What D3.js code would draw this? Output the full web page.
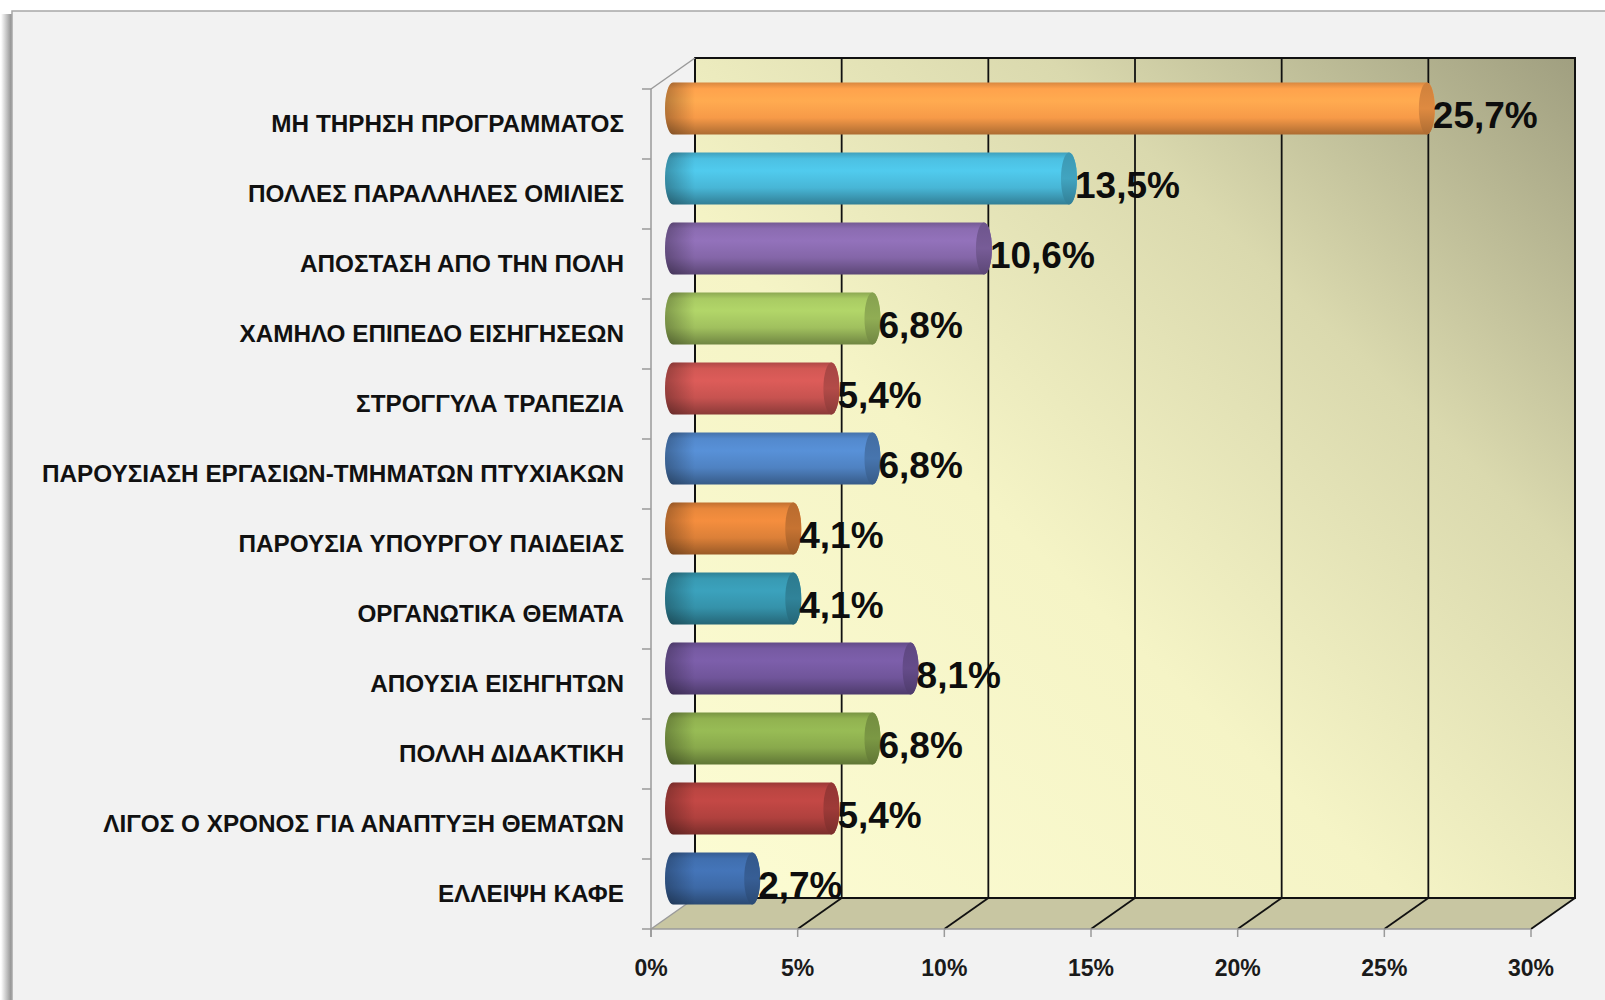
<!DOCTYPE html>
<html><head><meta charset="utf-8">
<script src="https://cdn.jsdelivr.net/npm/d3@7/dist/d3.min.js"></script>
<style>html,body{margin:0;padding:0;background:#fff;}svg{display:block;}</style>
</head><body>
<svg id="chart" width="1605" height="1000"></svg>
<script>
const categories = [
  "ΜΗ ΤΗΡΗΣΗ ΠΡΟΓΡΑΜΜΑΤΟΣ",
  "ΠΟΛΛΕΣ ΠΑΡΑΛΛΗΛΕΣ ΟΜΙΛΙΕΣ",
  "ΑΠΟΣΤΑΣΗ ΑΠΟ ΤΗΝ ΠΟΛΗ",
  "ΧΑΜΗΛΟ ΕΠΙΠΕΔΟ ΕΙΣΗΓΗΣΕΩΝ",
  "ΣΤΡΟΓΓΥΛΑ ΤΡΑΠΕΖΙΑ",
  "ΠΑΡΟΥΣΙΑΣΗ ΕΡΓΑΣΙΩΝ-ΤΜΗΜΑΤΩΝ ΠΤΥΧΙΑΚΩΝ",
  "ΠΑΡΟΥΣΙΑ ΥΠΟΥΡΓΟΥ ΠΑΙΔΕΙΑΣ",
  "ΟΡΓΑΝΩΤΙΚΑ ΘΕΜΑΤΑ",
  "ΑΠΟΥΣΙΑ ΕΙΣΗΓΗΤΩΝ",
  "ΠΟΛΛΗ ΔΙΔΑΚΤΙΚΗ",
  "ΛΙΓΟΣ Ο ΧΡΟΝΟΣ ΓΙΑ ΑΝΑΠΤΥΞΗ ΘΕΜΑΤΩΝ",
  "ΕΛΛΕΙΨΗ ΚΑΦΕ"
];
const values = [25.7, 13.5, 10.6, 6.8, 5.4, 6.8, 4.1, 4.1, 8.1, 6.8, 5.4, 2.7];
const barColors = ["#f79a48","#48b6d6","#8466a8","#a0c05e","#c75350","#4f82c2",
                   "#dc8038","#3592aa","#70559a","#89a94c","#b0413e","#3d69a6"];
const tickValues = [0, 5, 10, 15, 20, 25, 30];
const tickLabels = ["0%","5%","10%","15%","20%","25%","30%"];

const svg = d3.select("#chart");
const defs = svg.append("defs");

// frame
const shadow = defs.append("linearGradient").attr("id","lshadow").attr("x1",0).attr("x2",1).attr("y1",0).attr("y2",0);
shadow.append("stop").attr("offset",0).attr("stop-color","#ffffff");
shadow.append("stop").attr("offset",1).attr("stop-color","#808080");
svg.append("rect").attr("x",1).attr("y",14).attr("width",12).attr("height",990).attr("fill","url(#lshadow)");
svg.append("rect").attr("x",12).attr("y",11).attr("width",1620).attr("height",1000)
  .attr("fill","#f2f2f2").attr("stroke","#a8a8a8").attr("stroke-width",1.5);

// geometry
const x = d3.scaleLinear().domain([0,30]).range([651,1531]);
const y = d3.scaleBand().domain(categories).range([89,929]).padding(0);
const DX = 44, DY = -31;
const y0 = 929;

// back wall gradient
const wg = defs.append("linearGradient").attr("id","wall").attr("x1",0).attr("y1",1).attr("x2",1).attr("y2",0);
[[0,"#fcfcd3"],[0.4,"#f5f4c6"],[0.7,"#dad9ae"],[1,"#a09f80"]].forEach(s=>wg.append("stop").attr("offset",s[0]).attr("stop-color",s[1]));

const wallX0 = x(0)+DX, wallX1 = x(30)+DX, wallY0 = y.range()[0]+DY, wallY1 = y0+DY;
svg.append("rect").attr("x",wallX0).attr("y",wallY0).attr("width",wallX1-wallX0).attr("height",wallY1-wallY0)
  .attr("fill","url(#wall)").attr("stroke","#111").attr("stroke-width",2);

// floor
const floorPts = [[x(0),y0],[x(30),y0],[x(30)+DX,y0+DY],[x(0)+DX,y0+DY]];
svg.append("path").attr("d","M"+floorPts.map(p=>p.join(",")).join("L")+"Z")
  .attr("fill","#c8c6a2");

// back wall gridlines
svg.append("g").selectAll("line").data(tickValues.slice(1,-1)).join("line")
  .attr("x1",d=>x(d)+DX).attr("x2",d=>x(d)+DX).attr("y1",wallY0).attr("y2",wallY1)
  .attr("stroke","#111").attr("stroke-width",1.8);
// floor gridlines
svg.append("g").selectAll("line").data(tickValues.slice(1)).join("line")
  .attr("x1",d=>x(d)).attr("x2",d=>x(d)+DX).attr("y1",y0).attr("y2",y0+DY)
  .attr("stroke","#111").attr("stroke-width",1.8);
svg.append("line").attr("x1",wallX0).attr("x2",wallX1).attr("y1",wallY1).attr("y2",wallY1)
  .attr("stroke","#111").attr("stroke-width",1.8);
// floor front edge and left edge
svg.append("line").attr("x1",x(0)).attr("x2",x(30)).attr("y1",y0).attr("y2",y0).attr("stroke","#9a9a9a").attr("stroke-width",1.5);
svg.append("line").attr("x1",x(0)).attr("x2",x(0)+DX).attr("y1",y0).attr("y2",y0+DY).attr("stroke","#9a9a9a").attr("stroke-width",1.5);
// left wall edges
svg.append("line").attr("x1",x(0)).attr("x2",x(0)).attr("y1",y.range()[0]).attr("y2",y0+8).attr("stroke","#9a9a9a").attr("stroke-width",1.5);
svg.append("line").attr("x1",x(0)).attr("x2",x(0)+DX).attr("y1",y.range()[0]).attr("y2",y.range()[0]+DY).attr("stroke","#9a9a9a").attr("stroke-width",1.5);
// category ticks
const catTicks = categories.map(c=>y(c)).concat([y0]);
svg.append("g").selectAll("line").data(catTicks).join("line")
  .attr("x1",x(0)-9).attr("x2",x(0)).attr("y1",d=>d).attr("y2",d=>d)
  .attr("stroke","#9a9a9a").attr("stroke-width",1.5);
// x ticks
svg.append("g").selectAll("line").data(tickValues).join("line")
  .attr("x1",d=>x(d)).attr("x2",d=>x(d)).attr("y1",y0).attr("y2",y0+8)
  .attr("stroke","#9a9a9a").attr("stroke-width",1.5);
svg.append("g").selectAll("text").data(tickValues).join("text")
  .attr("x",d=>x(d)).attr("y",976).attr("text-anchor","middle")
  .attr("font-family","'Liberation Sans', Arial, sans-serif").attr("font-weight","bold").attr("font-size",23)
  .attr("fill","#1a1a1a").text((d,i)=>tickLabels[i]);

// category labels
svg.append("g").selectAll("text").data(categories).join("text")
  .attr("x",624).attr("y",d=>y(d)+y.bandwidth()/2+8).attr("text-anchor","end")
  .attr("font-family","'Liberation Sans Narrow', 'Arial Narrow', sans-serif").attr("font-weight","bold").attr("font-size",24.3)
  .attr("fill","#111").text(d=>d);

// bars (cylinders at mid depth)
const bh = y.bandwidth()*0.74, r = bh/2, rx = 8;
const bars = svg.append("g");
categories.forEach((c,i)=>{
  const col = d3.color(barColors[i]);
  const g = defs.append("linearGradient").attr("id","bg"+i).attr("x1",0).attr("x2",0).attr("y1",0).attr("y2",1);
  [[0,col.darker(0.35)],[0.12,col.brighter(0.15)],[0.35,col.brighter(0.3)],[0.68,col],[1,col.darker(1.0)]]
    .forEach(s=>g.append("stop").attr("offset",s[0]).attr("stop-color",s[1]));
  const cy = y(c)+y.bandwidth()/2+DY/2;
  const x0 = x(0)+DX/2, x1 = x(values[i])+DX/2;
  const d = `M${x0},${cy-r}L${x1},${cy-r}A${rx},${r} 0 0 1 ${x1},${cy+r}L${x0},${cy+r}A${rx},${r} 0 0 1 ${x0},${cy-r}Z`;
  bars.append("path").attr("d",d).attr("fill",`url(#bg${i})`);
  const hg = defs.append("linearGradient").attr("id","hg"+i).attr("gradientUnits","userSpaceOnUse")
    .attr("x1",x0-rx).attr("x2",x0+22).attr("y1",0).attr("y2",0);
  hg.append("stop").attr("offset",0).attr("stop-color","#000").attr("stop-opacity",0.28);
  hg.append("stop").attr("offset",1).attr("stop-color","#000").attr("stop-opacity",0);
  bars.append("path").attr("d",d).attr("fill",`url(#hg${i})`);
  const cg = defs.append("linearGradient").attr("id","cg"+i).attr("x1",0).attr("x2",0).attr("y1",0).attr("y2",1);
  [[0,col.darker(0.5)],[0.5,col.darker(0.3)],[1,col.darker(1.0)]].forEach(s=>cg.append("stop").attr("offset",s[0]).attr("stop-color",s[1]));
  bars.append("ellipse").attr("cx",x1).attr("cy",cy).attr("rx",rx).attr("ry",r).attr("fill",`url(#cg${i})`);
  bars.append("text").attr("x",x1+rx-2).attr("y",cy+19.5)
    .attr("font-family","'Liberation Sans', Arial, sans-serif").attr("font-weight","bold").attr("font-size",37)
    .attr("fill","#0d0d0d").text(d3.format(".1f")(values[i]).replace(".",",")+"%");
});
</script>
</body></html>
